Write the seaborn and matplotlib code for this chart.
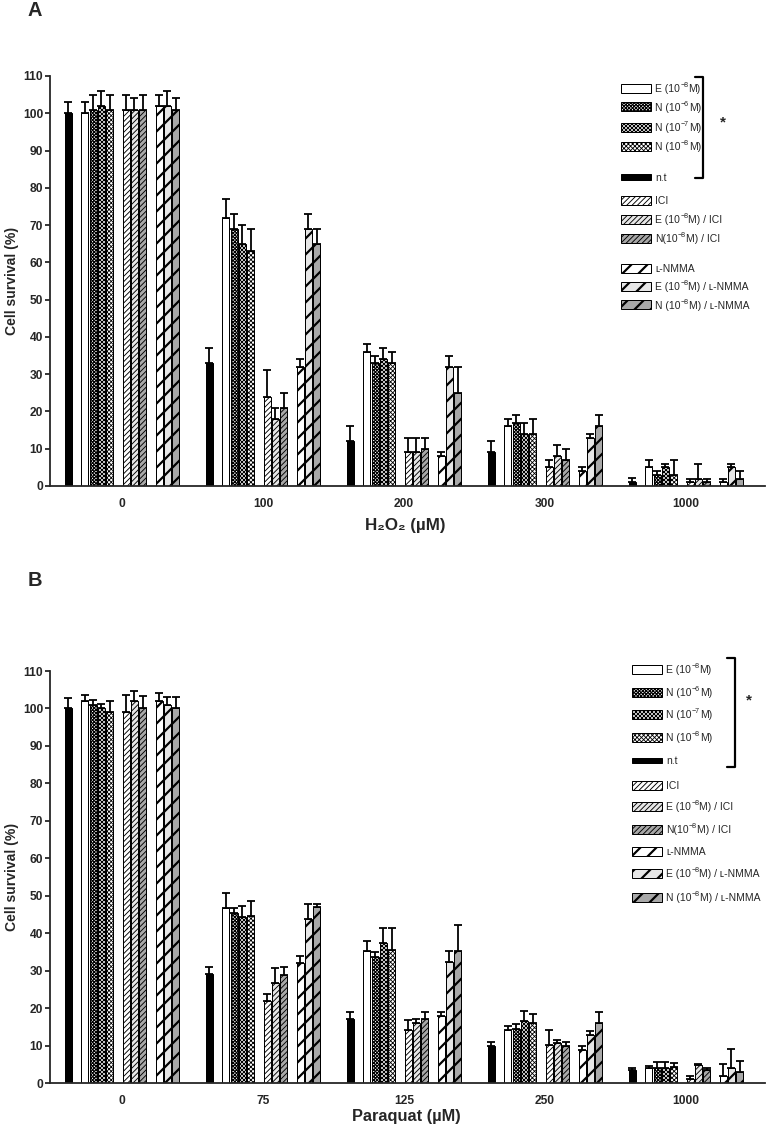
import numpy as np
import pandas as pd
import matplotlib
matplotlib.use('Agg')
import matplotlib.pyplot as plt
import seaborn as sns
from matplotlib.patches import Rectangle
from matplotlib.lines import Line2D

# ---- data ----
doses_a = ['0', '100', '200', '300', '1000']
doses_b = ['0', '75', '125', '250', '1000']

treatments = ['n.t', 'E', 'N6', 'N7', 'N8', 'ICI', 'E/ICI', 'N/ICI', 'L', 'E/L', 'N/L']
# slot order inside a dose group (gaps are empty hue levels)
slots = ['n.t', 'gap1', 'E', 'N6', 'N7', 'N8', 'gap2',
         'ICI', 'E/ICI', 'N/ICI', 'gap3', 'L', 'E/L', 'N/L']

# rows follow `treatments`, columns follow the doses
h2o2_mean = [
    [100, 33, 12, 9, 1.2],
    [100, 72, 36, 16, 5],
    [101, 69, 33, 17, 3],
    [102, 65, 34, 14, 5],
    [101, 63, 33, 14, 3],
    [101, 24, 9, 5, 1],
    [101, 18, 9, 8, 2],
    [101, 21, 10, 7, 1],
    [102, 32, 8, 4, 1],
    [102, 69, 32, 13, 5],
    [101, 65, 25, 16, 2],
]
h2o2_err = [
    [3, 4, 4, 3, 1],
    [3, 5, 2, 2, 2],
    [4, 4, 2, 2, 1],
    [4, 5, 3, 3, 1],
    [4, 6, 3, 4, 4],
    [4, 7, 4, 2, 1],
    [3, 3, 4, 3, 4],
    [4, 4, 3, 3, 1],
    [3, 2, 1, 1, 1],
    [4, 4, 3, 1, 1],
    [3, 4, 7, 3, 2],
]

paraquat_mean = [
    [100, 29, 17.1, 9.8, 3.4],
    [102, 46.8, 35.3, 14.2, 3.9],
    [101, 45.5, 33.6, 14.4, 4.0],
    [100, 44.3, 37.5, 16.5, 4.1],
    [99, 44.6, 35.4, 16, 4.4],
    [99, 21.8, 14.2, 10.2, 1.2],
    [102, 26.8, 16, 10.6, 4.7],
    [100, 28.9, 17, 9.8, 3.4],
    [102, 32, 18, 8.9, 2],
    [101, 43.8, 32.2, 12.9, 4],
    [100, 46.9, 35.2, 16, 2.9],
]
paraquat_err = [
    [2.7, 2, 1.8, 1.2, 0.7],
    [1.7, 4, 2.6, 1, 0.7],
    [1.2, 1.2, 1.4, 1.3, 1.5],
    [1.2, 3, 4, 2.8, 1.4],
    [3, 4, 6, 2.5, 0.9],
    [4.7, 2, 2.7, 4, 0.6],
    [2.7, 4, 1, 1, 0.3],
    [3.2, 2, 2, 1.2, 0.6],
    [2, 2, 1, 1.1, 3.1],
    [2, 4, 3, 1.1, 5.1],
    [3, 1, 7, 3, 3.1],
]

# legend labels as (text, superscript, text) pieces
legend_labels = [
    ('E (10', '−8', 'M)'),
    ('N (10', '−6', 'M)'),
    ('N (10', '−7', 'M)'),
    ('N (10', '−8', 'M)'),
    ('n.t', '', ''),
    ('ICI', '', ''),
    ('E (10', '−8', 'M) / ICI'),
    ('N(10', '−8', 'M) / ICI'),
    ('ʟ-NMMA', '', ''),
    ('E (10', '−8', 'M) / ʟ-NMMA'),
    ('N (10', '−8', 'M) / ʟ-NMMA'),
]
legend_keys = ['E', 'N6', 'N7', 'N8', 'n.t', 'ICI', 'E/ICI', 'N/ICI', 'L', 'E/L', 'N/L']

# ---- styles ----
LIGHT = '#e6e6e6'
MID = '#a8a8a8'
style = {
    'n.t':   dict(fc='black', hatch='', hlw=0.5),
    'E':     dict(fc='white', hatch='', hlw=0.5),
    'N6':    dict(fc='white', hatch='x' * 14, hlw=0.55),
    'N7':    dict(fc='white', hatch='x' * 12, hlw=0.5),
    'N8':    dict(fc='white', hatch='x' * 11, hlw=0.42),
    'ICI':   dict(fc='white', hatch='/' * 9, hlw=0.45),
    'E/ICI': dict(fc=LIGHT, hatch='/' * 9, hlw=0.45),
    'N/ICI': dict(fc=MID, hatch='/' * 9, hlw=0.45),
    'L':     dict(fc='white', hatch='///', hlw=1.1),
    'E/L':   dict(fc=LIGHT, hatch='///', hlw=1.1),
    'N/L':   dict(fc=MID, hatch='///', hlw=1.1),
}
palette = {s: (style[s]['fc'] if s in style else 'white') for s in slots}

sns.set_style('ticks')
plt.rcParams['font.family'] = ['Liberation Sans', 'DejaVu Sans']
plt.rcParams['hatch.color'] = 'black'
plt.rcParams['hatch.linewidth'] = 0.5

DPI = 144
W, H = 768, 1127
fig = plt.figure(figsize=(W / DPI, H / DPI), dpi=DPI)
renderer = fig.canvas.get_renderer()


def fx(px):
    return px / W


def fy(py):
    return 1 - py / H


def style_patch(p, key):
    st = style[key]
    p.set_facecolor(st['fc'])
    p.set_edgecolor('black')
    p.set_hatch(st['hatch'])
    if hasattr(p, 'set_hatch_linewidth'):
        p.set_hatch_linewidth(st['hlw'])


def draw_panel(ax, doses, means, errs):
    rows = []
    for t, m_row in zip(treatments, means):
        for d, m in zip(doses, m_row):
            rows.append({'dose': d, 'treatment': t, 'survival': m})
    df = pd.DataFrame(rows)
    width = 0.82
    sns.barplot(data=df, x='dose', y='survival', hue='treatment', order=doses,
                hue_order=slots, palette=palette, width=width, gap=0.15,
                edgecolor='black', linewidth=0.5, errorbar=None, legend=False, ax=ax)
    err_lookup = {(t, d): e for t, e_row in zip(treatments, errs) for d, e in zip(doses, e_row)}
    n = len(slots)
    each = width / n
    xs, ys, es = [], [], []
    for p in ax.patches:
        xc = p.get_x() + p.get_width() / 2
        g = int(round(xc))
        s = int(round((xc - g) / each + (n - 1) / 2))
        key = slots[s]
        style_patch(p, key)
        xs.append(xc)
        ys.append(p.get_height())
        es.append(err_lookup[(key, doses[g])])
    ax.errorbar(xs, ys, yerr=[np.zeros(len(es)), es], fmt='none', ecolor='black',
                elinewidth=0.9, capsize=2.2, capthick=0.9, zorder=1)
    for p in ax.patches:
        p.set_zorder(2)

    ax.set_ylim(0, 110)
    ax.set_xlim(-0.51, 4.56)
    ax.set_yticks(np.arange(0, 111, 10))
    ax.set_xlabel('')
    ax.set_ylabel('')
    sns.despine(ax=ax)
    for sp in ['left', 'bottom']:
        ax.spines[sp].set_linewidth(0.9)
    ax.tick_params(axis='y', length=2.5, width=0.9, labelsize=6, pad=1)
    ax.tick_params(axis='x', length=0, labelsize=6, pad=6)
    for lab in ax.get_xticklabels() + ax.get_yticklabels():
        lab.set_fontweight('bold')


def rich_label(xpix, ypix, pieces, size):
    # draw text, superscript, text one after another on a shared baseline
    base, sup, tail = pieces
    cur = xpix
    t = fig.text(fx(cur), fy(ypix), base, fontsize=size, va='baseline', ha='left')
    if not sup:
        return
    cur = t.get_window_extent(renderer).x1 + 0.3
    t = fig.text(fx(cur), fy(ypix - size * 0.85), sup, fontsize=size * 0.68,
                 va='baseline', ha='left')
    cur = t.get_window_extent(renderer).x1 + 0.2
    fig.text(fx(cur), fy(ypix), tail, fontsize=size, va='baseline', ha='left')


def draw_legend(rows_y, x0, x_text, bracket_x, bracket_top, bracket_bot, star_xy):
    for key, label, y in zip(legend_keys, legend_labels, rows_y):
        st = style[key]
        h = 5 if key == 'n.t' else 9
        r = Rectangle((fx(x0), fy(y + h / 2)), 30 / W, h / H, transform=fig.transFigure,
                      facecolor=st['fc'], edgecolor='black', linewidth=0.5, hatch=st['hatch'])
        if hasattr(r, 'set_hatch_linewidth'):
            r.set_hatch_linewidth(st['hlw'])
        fig.add_artist(r)
        rich_label(x_text, y + 3.6, label, 5.2)
    xs = [fx(bracket_x - 8), fx(bracket_x), fx(bracket_x), fx(bracket_x - 8)]
    ys = [fy(bracket_top), fy(bracket_top), fy(bracket_bot), fy(bracket_bot)]
    fig.add_artist(Line2D(xs, ys, color='black', linewidth=1.1, transform=fig.transFigure))
    fig.text(fx(star_xy[0]), fy(star_xy[1]), '*', fontsize=7.5, fontweight='bold',
             ha='center', va='center')


# ---- panel A ----
ax_a = fig.add_axes([fx(50), fy(486), fx(765) - fx(50), fy(76) - fy(486)])
draw_panel(ax_a, doses_a, h2o2_mean, h2o2_err)
fig.text(fx(405), fy(526), 'H₂O₂ (µM)', fontsize=8.5, fontweight='bold', ha='center', va='center')
fig.text(fx(12), fy(281), 'Cell survival (%)', fontsize=7, fontweight='bold',
         rotation=90, ha='center', va='center')
fig.text(fx(35), fy(11), 'A', fontsize=10, fontweight='bold', ha='center', va='center')
draw_legend([88, 107, 127, 146, 177, 200, 219, 238, 268, 286, 305],
            621, 655, 703, 77, 178, (723, 122))

# ---- panel B ----
ax_b = fig.add_axes([fx(50), fy(1083), fx(765) - fx(50), fy(671) - fy(1083)])
draw_panel(ax_b, doses_b, paraquat_mean, paraquat_err)
fig.text(fx(406), fy(1117), 'Paraquat (µM)', fontsize=8.2, fontweight='bold', ha='center', va='center')
fig.text(fx(12), fy(877), 'Cell survival (%)', fontsize=7, fontweight='bold',
         rotation=90, ha='center', va='center')
fig.text(fx(35), fy(580), 'B', fontsize=10, fontweight='bold', ha='center', va='center')
draw_legend([669, 692, 714, 737, 760, 785, 806, 829, 851, 873, 897],
            632, 666, 735, 658, 767, (749, 700))

fig.savefig('out.png', dpi=DPI)
